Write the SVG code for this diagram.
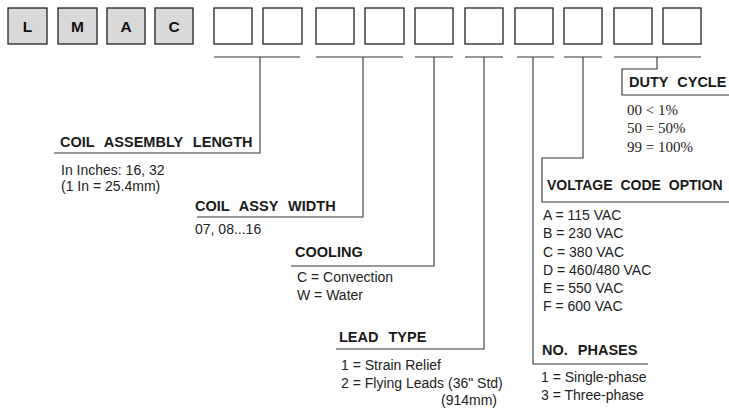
<svg xmlns="http://www.w3.org/2000/svg" width="729" height="410" viewBox="0 0 729 410">
<style>
.bg{fill:#ffffff}
.code{fill:#d9d9d9;stroke:#222;stroke-width:1.3}
.slot{fill:#ffffff;stroke:#222;stroke-width:1.3}
.lt{font-family:"Liberation Sans",Arial,sans-serif;font-weight:bold;font-size:15.5px;fill:#111;text-anchor:middle}
.hd{font-family:"Liberation Sans",Arial,sans-serif;font-weight:bold;font-size:14.5px;fill:#1a1a1a;word-spacing:6px}
.tx{font-family:"Liberation Sans",Arial,sans-serif;font-size:14px;fill:#222}
.sf{font-family:"Liberation Serif","Times New Roman",serif;font-size:15px;fill:#222}
.ln{fill:none;stroke:#333;stroke-width:1.1}
</style>
<rect class="bg" x="0" y="0" width="729" height="410"/>
<g id="code-boxes">
<g id="box-L"><rect class="code" x="8" y="8" width="39" height="36"/><text class="lt" x="27.5" y="32">L</text></g>
<g id="box-M"><rect class="code" x="58" y="8" width="39" height="36"/><text class="lt" x="77.5" y="32">M</text></g>
<g id="box-A"><rect class="code" x="107" y="8" width="38" height="36"/><text class="lt" x="126" y="32">A</text></g>
<g id="box-C"><rect class="code" x="155" y="8" width="38" height="36"/><text class="lt" x="174" y="32">C</text></g>
</g>
<g id="slots">
<rect id="slot1" class="slot" x="214" y="8" width="38" height="36"/>
<rect id="slot2" class="slot" x="263" y="8" width="39" height="36"/>
<rect id="slot3" class="slot" x="316" y="8" width="38" height="36"/>
<rect id="slot4" class="slot" x="365" y="8" width="39" height="36"/>
<rect id="slot5" class="slot" x="415" y="8" width="38" height="36"/>
<rect id="slot6" class="slot" x="465" y="8" width="38" height="36"/>
<rect id="slot7" class="slot" x="515" y="8" width="38" height="36"/>
<rect id="slot8" class="slot" x="564" y="8" width="38" height="36"/>
<rect id="slot9" class="slot" x="614" y="8" width="38" height="36"/>
<rect id="slot10" class="slot" x="663" y="8" width="38" height="36"/>
</g>
<g id="connectors">
<path class="ln" d="M214,57H300M260,57V153H54"/>
<path class="ln" d="M316,57H403M363,57V217H197"/>
<path class="ln" d="M415,57H453M434,57V266H291"/>
<path class="ln" d="M465,57H503M484,57V349H336"/>
<path class="ln" d="M517,57H554M533,57V364H648"/>
<path class="ln" d="M564,57H602M583,57V158H542V202H729"/>
<path class="ln" d="M614,57H701M657,57V69H622V95H729"/>
</g>
<g id="coil-length">
<text class="hd" x="60" y="147">COIL ASSEMBLY LENGTH</text>
<text class="tx" x="61" y="175">In Inches: 16, 32</text>
<text class="tx" x="61" y="191">(1 In = 25.4mm)</text>
</g>
<g id="coil-width">
<text class="hd" x="195" y="211">COIL ASSY WIDTH</text>
<text class="tx" x="195" y="234">07, 08...16</text>
</g>
<g id="cooling">
<text class="hd" x="295" y="257">COOLING</text>
<text class="tx" x="297" y="282">C = Convection</text>
<text class="tx" x="297" y="300">W = Water</text>
</g>
<g id="lead-type">
<text class="hd" x="339" y="342">LEAD TYPE</text>
<text class="tx" x="341" y="370">1 = Strain Relief</text>
<text class="tx" x="341" y="388">2 = Flying Leads (36" Std)</text>
<text class="tx" x="497" y="405" text-anchor="end">(914mm)</text>
</g>
<g id="phases">
<text class="hd" x="542" y="355">NO. PHASES</text>
<text class="tx" x="541" y="382">1 = Single-phase</text>
<text class="tx" x="541" y="400">3 = Three-phase</text>
</g>
<g id="voltage">
<text class="hd" x="547" y="190" style="word-spacing:4px;font-size:14px">VOLTAGE CODE OPTION</text>
<text class="tx" x="543" y="220">A = 115 VAC</text>
<text class="tx" x="543" y="238">B = 230 VAC</text>
<text class="tx" x="543" y="257">C = 380 VAC</text>
<text class="tx" x="543" y="275">D = 460/480 VAC</text>
<text class="tx" x="543" y="293">E = 550 VAC</text>
<text class="tx" x="543" y="311">F = 600 VAC</text>
</g>
<g id="duty-cycle">
<text class="hd" x="629" y="87" style="word-spacing:5px">DUTY CYCLE</text>
<text class="sf" x="627" y="115">00 &lt; 1%</text>
<text class="sf" x="627" y="133">50 = 50%</text>
<text class="sf" x="627" y="152">99 = 100%</text>
</g>
</svg>
